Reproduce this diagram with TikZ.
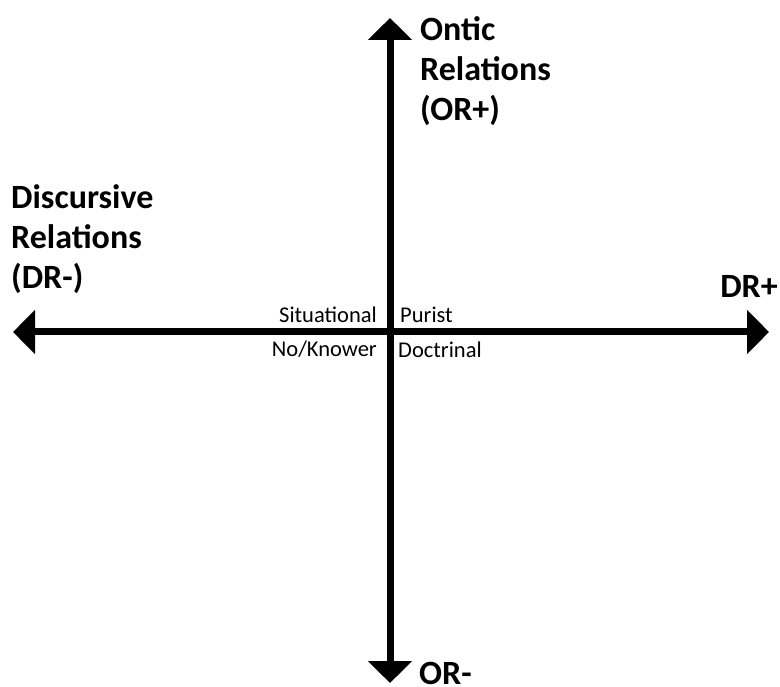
\documentclass[tikz,border=0pt]{standalone}
\usepackage{fontspec}
\setmainfont{Carlito}
\usepackage{tikz}
\usetikzlibrary{arrows.meta, positioning}

\begin{document}
\begin{tikzpicture}[x=1pt, y=-1pt,
  axis/.style={line width=7pt, {Triangle[length=22pt, width=43pt]}-{Triangle[length=22pt, width=43pt]}},
  axislabel/.style={inner sep=0pt, align=left, font=\fontsize{34}{40}\selectfont\bfseries},
  quadlabel/.style={inner sep=0pt, font=\fontsize{22.5}{26}\selectfont}]
  \useasboundingbox (0, 0) rectangle (780, 687);

  % Axis ends
  \coordinate (top) at (390, 18);
  \coordinate (bottom) at (390, 683);
  \coordinate (left) at (13, 332);
  \coordinate (right) at (769, 332);

  % Axes
  \draw[axis] (left) -- (right);
  \draw[axis] (bottom) -- (top);

  % Axis labels
  \node[axislabel, anchor=north west] (ontic) at (420, 16) {Ontic\\Relations\\(OR+)};
  \node[axislabel, anchor=north west] (discursive) at (11, 184) {Discursive\\Relations\\(DR-)};
  \node[axislabel, anchor=base east] (drplus) at (778, 298) {DR+};
  \node[axislabel, anchor=base west] (orminus) at (419, 684) {OR-};

  % Quadrant labels
  \node[quadlabel, anchor=base east] (situational) at (377, 323) {Situational};
  \node[quadlabel, anchor=base west] (purist) at (400, 323) {Purist};
  \node[quadlabel, anchor=base east] (noknower) at (377, 357) {No/Knower};
  \node[quadlabel, anchor=base west] (doctrinal) at (398, 358) {Doctrinal};
\end{tikzpicture}
\end{document}
